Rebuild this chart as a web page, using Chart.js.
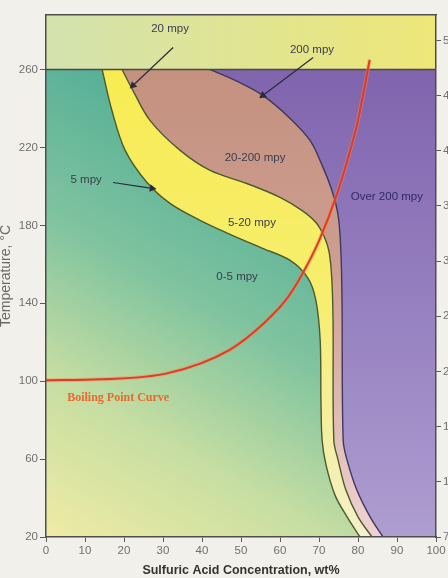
<!DOCTYPE html>
<html>
<head>
<meta charset="utf-8">
<script src="https://cdn.jsdelivr.net/npm/chart.js@4.4.1/dist/chart.umd.min.js"></script>
<style>
    html, body { margin: 0; padding: 0; background: #f2f0eb; }
    #chart { display: block; }
</style>
</head>
<body>
<canvas id="chart" width="448" height="578"></canvas>
<script>
// Оси
const Y_TICKS = [20, 60, 100, 140, 180, 220, 260];
const RIGHT_TICKS = [50, 100, 150, 200, 250, 300, 350, 400, 450, 500];
const RIGHT_TICK_LABELS = ['70', '100', '150', '200', '250', '300', '350', '400', '450', '500'];

// Граница 5 mpy (концентрация, %; температура, °C)
const CONC_5MPY = [14.4, 16.9, 20.3, 25.9, 31.8, 39.5, 47.2, 54.9, 62.6, 67.2, 69.2, 70.3, 70.5, 70.8, 71.8, 74.1, 77.2, 80.5];
const TEMP_5MPY = [260, 239, 218.5, 202, 191.3, 182.6, 175.4, 168.7, 162, 152.8, 141.5, 121, 90.3, 69.7, 57, 41.5, 30.3, 20];

// Граница 20 mpy
const CONC_20MPY = [19.5, 22.3, 26.7, 34.4, 42.1, 51.5, 60, 65.6, 69.2, 71.3, 72.6, 73.3, 73.6, 73.8, 74.9, 76.9, 80, 83.6];
const TEMP_20MPY = [260, 249.2, 233.8, 218.5, 208.2, 201.5, 194.4, 187.7, 181.5, 174.4, 166.2, 151.8, 131.3, 69.7, 59.5, 44.1, 30.3, 20];

// Граница 200 mpy
const CONC_200MPY = [42.1, 49.7, 55.6, 62.6, 67.7, 70.8, 73.3, 74.9, 75.6, 75.9, 76.2, 77.2, 79.7, 83.1, 86.4];
const TEMP_200MPY = [260, 253.3, 246.7, 234.9, 223.6, 210.8, 198, 185.1, 167.2, 141.5, 69.7, 59.5, 44.1, 30.3, 20];

// Кривая кипения
const BOIL_CONC = [0, 14, 31, 47, 56, 62, 66, 70, 74.6, 78, 80, 83];
const BOIL_TEMP = [100.5, 101, 104, 116, 130, 143, 156, 172, 196, 218.5, 234, 265];

// Подписи зон (в координатах данных)
const LABEL_TEXT = ['20 mpy', '200 mpy', '20-200 mpy', '5 mpy', '5-20 mpy', 'Over 200 mpy', '0-5 mpy', 'Boiling Point Curve'];
const LABEL_CONC = [31.8, 68.2, 53.6, 10.3, 52.8, 87.4, 49, 18.5];
const LABEL_TEMP = [281, 270.3, 214.9, 203.6, 181.5, 194.4, 153.8, 91.3];

// Стрелки от подписей к границам
const ARROW_FROM_CONC = [32.6, 68.5, 17.2];
const ARROW_FROM_TEMP = [271.3, 266.2, 202];
const ARROW_TO_CONC = [22.3, 55.6, 27.2];
const ARROW_TO_TEMP = [251.8, 246.7, 199];

const TEMP_TOP = 260;

const toPoints = (xs, ys) => xs.map((x, i) => ({ x, y: ys[i] }));

// Продолжение отрезка (a -> b) до заданной температуры
function extend(ax, ay, bx, by, yTarget) {
    const t = (yTarget - by) / (by - ay);
    return { x: bx + (bx - ax) * t, y: yTarget };
}

// Область справа от границы: продлеваем кривую за пределы графика и замыкаем
function regionRightOf(conc, temp) {
    const n = conc.length;
    const pts = toPoints(conc, temp);
    pts.unshift(extend(conc[1], temp[1], conc[0], temp[0], 320));
    pts.push(extend(conc[n - 2], temp[n - 2], conc[n - 1], temp[n - 1], 0));
    pts.push({ x: 150, y: -30 }, { x: 150, y: 330 });
    return pts;
}

function vGradient(chart, stops) {
    if (!chart.chartArea) return stops[0][1];
    const y = chart.scales.y;
    const g = chart.ctx.createLinearGradient(0, y.getPixelForValue(TEMP_TOP), 0, y.getPixelForValue(20));
    stops.forEach(([o, c]) => g.addColorStop(o, c));
    return g;
}

function greenGradient(chart) {
    if (!chart.chartArea) return '#8cc6a0';
    const { x, y } = chart.scales;
    const g = chart.ctx.createLinearGradient(x.getPixelForValue(0), y.getPixelForValue(20),
        x.getPixelForValue(60), y.getPixelForValue(230));
    g.addColorStop(0, '#f0eba4');
    g.addColorStop(0.3, '#c6dea2');
    g.addColorStop(0.6, '#7fc39f');
    g.addColorStop(1, '#4cab95');
    return g;
}

function topGradient(chart) {
    if (!chart.chartArea) return '#e4e690';
    const x = chart.scales.x;
    const g = chart.ctx.createLinearGradient(x.getPixelForValue(0), 0, x.getPixelForValue(100), 0);
    g.addColorStop(0, '#d3e2ae');
    g.addColorStop(1, '#eee778');
    return g;
}

function arrowRotation(c) {
    const d = c.dataset.data;
    const xs = c.chart.scales.x, ys = c.chart.scales.y;
    const dx = xs.getPixelForValue(d[1].x) - xs.getPixelForValue(d[0].x);
    const dy = ys.getPixelForValue(d[1].y) - ys.getPixelForValue(d[0].y);
    return Math.atan2(dx, -dy) * 180 / Math.PI;
}

const region = (data, bg, border, order) => ({
    data, backgroundColor: bg, borderColor: border, borderWidth: border ? 1.4 : 0,
    fill: 'shape', showLine: true, pointRadius: 0, tension: 0.35, order
});

const arrows = ARROW_FROM_CONC.map((x0, i) => ({
    data: [{ x: x0, y: ARROW_FROM_TEMP[i] }, { x: ARROW_TO_CONC[i], y: ARROW_TO_TEMP[i] }],
    showLine: true, borderColor: '#2a2a3c', borderWidth: 1.2, tension: 0,
    pointRadius: [0, 4.5], pointStyle: 'triangle', pointBackgroundColor: '#2a2a3c',
    pointBorderWidth: 0, rotation: arrowRotation, order: 1
}));

const LABEL_STYLE = {
    'Boiling Point Curve': { font: 'bold 12px "Liberation Serif", "DejaVu Serif", serif', color: '#e8692e' },
    'Over 200 mpy': { font: '11.5px "Liberation Sans", Arial, sans-serif', color: '#2e2a68' }
};
const DEFAULT_LABEL_STYLE = { font: '11.5px "Liberation Sans", Arial, sans-serif', color: '#3b3d4c' };

const labelPlugin = {
    id: 'zoneLabels',
    afterDatasetsDraw(chart) {
        const { ctx, scales: { x, y } } = chart;
        ctx.save();
        ctx.textAlign = 'center';
        ctx.textBaseline = 'middle';
        LABEL_TEXT.forEach((text, i) => {
            const st = LABEL_STYLE[text] || DEFAULT_LABEL_STYLE;
            ctx.font = st.font;
            ctx.fillStyle = st.color;
            ctx.fillText(text, x.getPixelForValue(LABEL_CONC[i]), y.getPixelForValue(LABEL_TEMP[i]));
        });
        ctx.restore();
    }
};

new Chart(document.getElementById('chart'), {
    type: 'scatter',
    data: {
        datasets: [
            region([{ x: -20, y: -30 }, { x: 150, y: -30 }, { x: 150, y: 330 }, { x: -20, y: 330 }],
                c => greenGradient(c.chart), null, 20),
            region(regionRightOf(CONC_5MPY, TEMP_5MPY),
                c => vGradient(c.chart, [[0, '#f8eb52'], [0.5, '#f6ee70'], [1, '#f4f0cc']]), '#4d5a2c', 19),
            region(regionRightOf(CONC_20MPY, TEMP_20MPY),
                c => vGradient(c.chart, [[0, '#c5917f'], [0.4, '#cc9d90'], [1, '#eed2d2']]), '#4d5a2c', 18),
            region(regionRightOf(CONC_200MPY, TEMP_200MPY),
                c => vGradient(c.chart, [[0, '#8064ad'], [0.5, '#9680c0'], [1, '#ae9dd0']]), '#3f3858', 17),
            // Верхняя полоса над 260 °C
            Object.assign(region([{ x: -20, y: TEMP_TOP }, { x: 150, y: TEMP_TOP }, { x: 150, y: 330 }, { x: -20, y: 330 }],
                c => topGradient(c.chart), '#4a4a4a', 10), { tension: 0, borderWidth: 1.5 }),
            {
                data: toPoints(BOIL_CONC, BOIL_TEMP), showLine: true, borderColor: 'rgba(242,140,70,0.45)',
                borderWidth: 4, pointRadius: 0, cubicInterpolationMode: 'monotone', fill: false, order: 6
            },
            {
                data: toPoints(BOIL_CONC, BOIL_TEMP), showLine: true, borderColor: '#e2392b',
                borderWidth: 2, pointRadius: 0, cubicInterpolationMode: 'monotone', fill: false, order: 5
            },
            ...arrows
        ]
    },
    options: {
        responsive: false,
        animation: false,
        devicePixelRatio: 1,
        layout: { padding: 0 },
        plugins: { legend: { display: false }, tooltip: { enabled: false } },
        scales: {
            x: {
                type: 'linear', position: 'bottom', min: 0, max: 100,
                ticks: { stepSize: 10, color: '#707070', font: { size: 11.5 }, padding: 2, maxRotation: 0, autoSkip: false },
                grid: { drawOnChartArea: false, tickLength: 5, color: '#5a5a5a' },
                border: { color: '#4e4e4e', width: 1.5, z: 1 },
                title: {
                    display: true, text: 'Sulfuric Acid Concentration, wt%', color: '#333',
                    font: { size: 12.5, weight: 'bold' }, padding: { top: 0, bottom: 0 }
                },
                afterFit: s => { s.height = 41; }
            },
            x2: {
                type: 'linear', position: 'top', min: 0, max: 100,
                grid: { display: false }, ticks: { display: false },
                border: { color: '#4e4e4e', width: 1.5, z: 1 },
                afterFit: s => { s.height = 15; }
            },
            y: {
                type: 'linear', position: 'left', min: 20, max: 288,
                afterBuildTicks: s => { s.ticks = Y_TICKS.map(v => ({ value: v })); },
                ticks: { color: '#707070', font: { size: 11.5 }, padding: 2 },
                grid: { drawOnChartArea: false, tickLength: 6, color: '#5a5a5a' },
                border: { color: '#4e4e4e', width: 1.5, z: 1 },
                title: {
                    display: true, text: 'Temperature, °C', color: '#6a6a6a',
                    font: { size: 14 }, padding: { top: -2, bottom: 0 }
                },
                afterFit: s => { s.width = 46; }
            },
            y2: {
                type: 'linear', position: 'right', min: 50, max: 523,
                afterBuildTicks: s => { s.ticks = RIGHT_TICKS.map(v => ({ value: v })); },
                ticks: { color: '#707070', font: { size: 11.5 }, padding: 2, callback: (v, i) => RIGHT_TICK_LABELS[i] },
                grid: { drawOnChartArea: false, tickLength: 5, color: '#5a5a5a' },
                border: { color: '#4e4e4e', width: 1.5, z: 1 },
                afterFit: s => { s.width = 12; }
            }
        }
    },
    plugins: [labelPlugin]
});
</script>
</body>
</html>
